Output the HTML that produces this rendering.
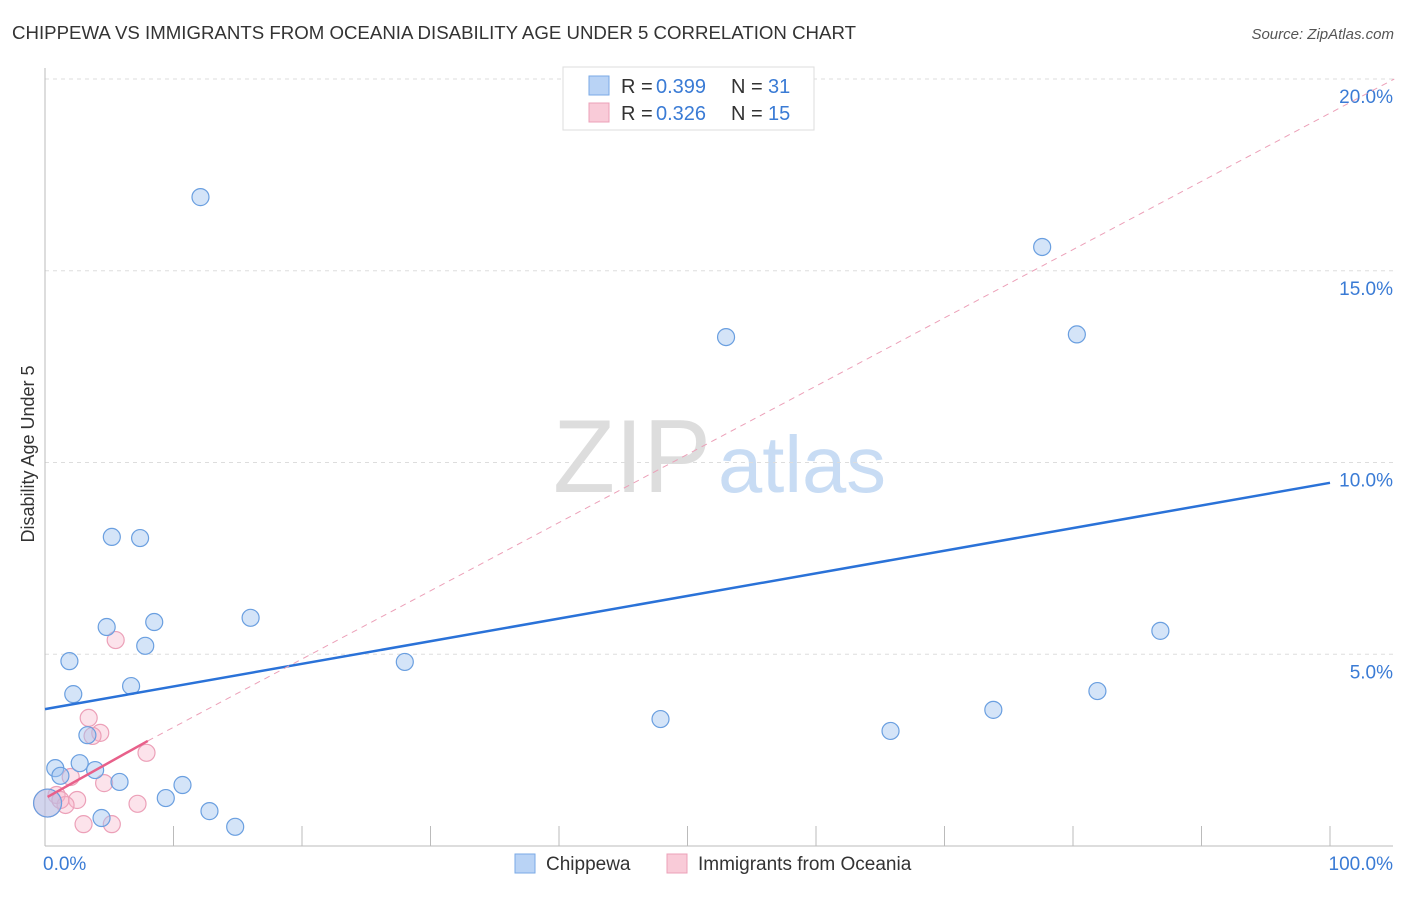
<!DOCTYPE html>
<html><head><meta charset="utf-8"><style>
body{margin:0;background:#fff;font-family:"Liberation Sans",sans-serif;}
svg text{font-family:"Liberation Sans",sans-serif;}
</style></head><body>
<svg id="c" width="1406" height="892">
<text x="12" y="39" font-size="18" fill="#333" textLength="844" lengthAdjust="spacingAndGlyphs">CHIPPEWA VS IMMIGRANTS FROM OCEANIA DISABILITY AGE UNDER 5 CORRELATION CHART</text>
<text x="1394" y="39" font-size="15" fill="#555" font-style="italic" text-anchor="end">Source: ZipAtlas.com</text>
<text x="34" y="454" font-size="18" fill="#333" text-anchor="middle" transform="rotate(-90 34 454)">Disability Age Under 5</text>
<g><text x="553" y="492" font-size="104" fill="#ddd" font-family="Liberation Serif" textLength="158" lengthAdjust="spacingAndGlyphs">ZIP</text><text x="718" y="492" font-size="80" fill="#c8dcf4" textLength="168" lengthAdjust="spacingAndGlyphs">atlas</text></g>
<g id="grid"></g><g id="marks"></g>
<g>
<rect x="563" y="67" width="251" height="63" fill="#fff" stroke="#ddd"/>
<rect x="589" y="76" width="20" height="19" fill="#b9d3f5" stroke="#7aaae6"/>
<text y="93" font-size="20" fill="#333"><tspan x="621">R =</tspan><tspan x="656" fill="#3a7bd5">0.399</tspan><tspan x="731">N =</tspan><tspan x="768" fill="#3a7bd5">31</tspan></text>
<rect x="589" y="103" width="20" height="19" fill="#f9cbd8" stroke="#eca0b8"/>
<text y="120" font-size="20" fill="#333"><tspan x="621">R =</tspan><tspan x="656" fill="#3a7bd5">0.326</tspan><tspan x="731">N =</tspan><tspan x="768" fill="#3a7bd5">15</tspan></text>
</g>
<g>
<rect x="515" y="854" width="20" height="19" fill="#b9d3f5" stroke="#7aaae6"/>
<text x="546" y="870" font-size="19" fill="#333">Chippewa</text>
<rect x="667" y="854" width="20" height="19" fill="#f9cbd8" stroke="#eca0b8"/>
<text x="698" y="870" font-size="19" fill="#333">Immigrants from Oceania</text>
</g>
</svg>
<script>
const yTicks=[5,10,15,20];
const xTickLabels=["0.0%","100.0%"];
const blueX=[12.1,77.6,53.0,80.3,5.2,7.4,4.8,8.5,7.8,16.0,1.9,28.0,2.2,6.7,86.8,47.9,65.8,73.8,81.9,3.3,0.8,2.7,1.2,3.9,5.8,10.7,9.4,12.8,4.4,14.8,0.2];
const blueY=[16.92,15.62,13.27,13.34,8.06,8.03,5.71,5.84,5.22,5.95,4.82,4.80,3.96,4.17,5.61,3.31,3.00,3.55,4.04,2.89,2.03,2.16,1.83,1.98,1.67,1.59,1.25,0.91,0.73,0.50,1.12];
const pinkX=[5.5,3.4,4.3,3.7,7.9,2.0,0.9,2.5,4.6,7.2,1.6,3.0,5.2,0.2,1.2];
const pinkY=[5.37,3.34,2.95,2.87,2.43,1.80,1.33,1.20,1.64,1.10,1.07,0.57,0.57,1.12,1.20];
const blueTrend=[3.57,9.47];
const pinkTrend=[1.28,2.74,0.2,8];
const pinkExtEnd=[105,20.0];
const NS="http://www.w3.org/2000/svg";
const X=v=>45+v*12.85, Y=v=>846-v*38.35;
function mk(tag,at,parent){const e=document.createElementNS(NS,tag);for(const k in at)e.setAttribute(k,at[k]);parent.appendChild(e);return e;}
const g=document.getElementById('grid'),m=document.getElementById('marks');
yTicks.forEach(t=>{
 const l=mk('line',{x1:45,x2:1393,y1:Y(t),y2:Y(t),stroke:'#ddd','stroke-dasharray':'4,4'},g);
 
 
 const tx=mk('text',{x:1393,y:Y(t)+24,'font-size':19,fill:'#3a7bd5','text-anchor':'end'},g);tx.textContent=t.toFixed(1)+'%';
 
 
});
mk('line',{x1:45,x2:45,y1:68,y2:846,stroke:'#bbb'},g);
mk('line',{x1:45,x2:1393,y1:846,y2:846,stroke:'#bbb'},g);
for(let i=0;i<=10;i++){const t=mk('line',{x1:X(i*10),x2:X(i*10),y1:826,y2:846,stroke:'#bbb'},g);
 
 }
[[X(0)-2,'start',0],[1393,'end',1]].forEach(([x,a,i])=>{const t=mk('text',{x:x,y:870,'font-size':19,fill:'#3a7bd5','text-anchor':a},g);t.textContent=xTickLabels[i];
 
 });
pinkX.forEach((x,i)=>{const c=mk('circle',{cx:X(x),cy:Y(pinkY[i]),r:x<0.5?14:8.5,fill:'rgba(245,175,198,0.35)',stroke:'#eca0b8','stroke-width':1.2},m);
 
 });
blueX.forEach((x,i)=>{const c=mk('circle',{cx:X(x),cy:Y(blueY[i]),r:x<0.5?14:8.5,fill:'rgba(160,195,240,0.45)',stroke:'#6a9fe0','stroke-width':1.2},m);
 
 });
const bl=mk('line',{x1:X(0),y1:Y(blueTrend[0]),x2:X(100),y2:Y(blueTrend[1]),stroke:'#2a72d8','stroke-width':2.5},m);


const pe=mk('line',{x1:X(pinkTrend[3]),y1:Y(pinkTrend[1]),x2:X(pinkExtEnd[0]),y2:Y(pinkExtEnd[1]),stroke:'#eca0b8','stroke-width':1,'stroke-dasharray':'6,5'},m);


const pl=mk('line',{x1:X(pinkTrend[2]),y1:Y(pinkTrend[0]),x2:X(pinkTrend[3]),y2:Y(pinkTrend[1]),stroke:'#e8608a','stroke-width':2.5},m);


</script>
</body></html>
